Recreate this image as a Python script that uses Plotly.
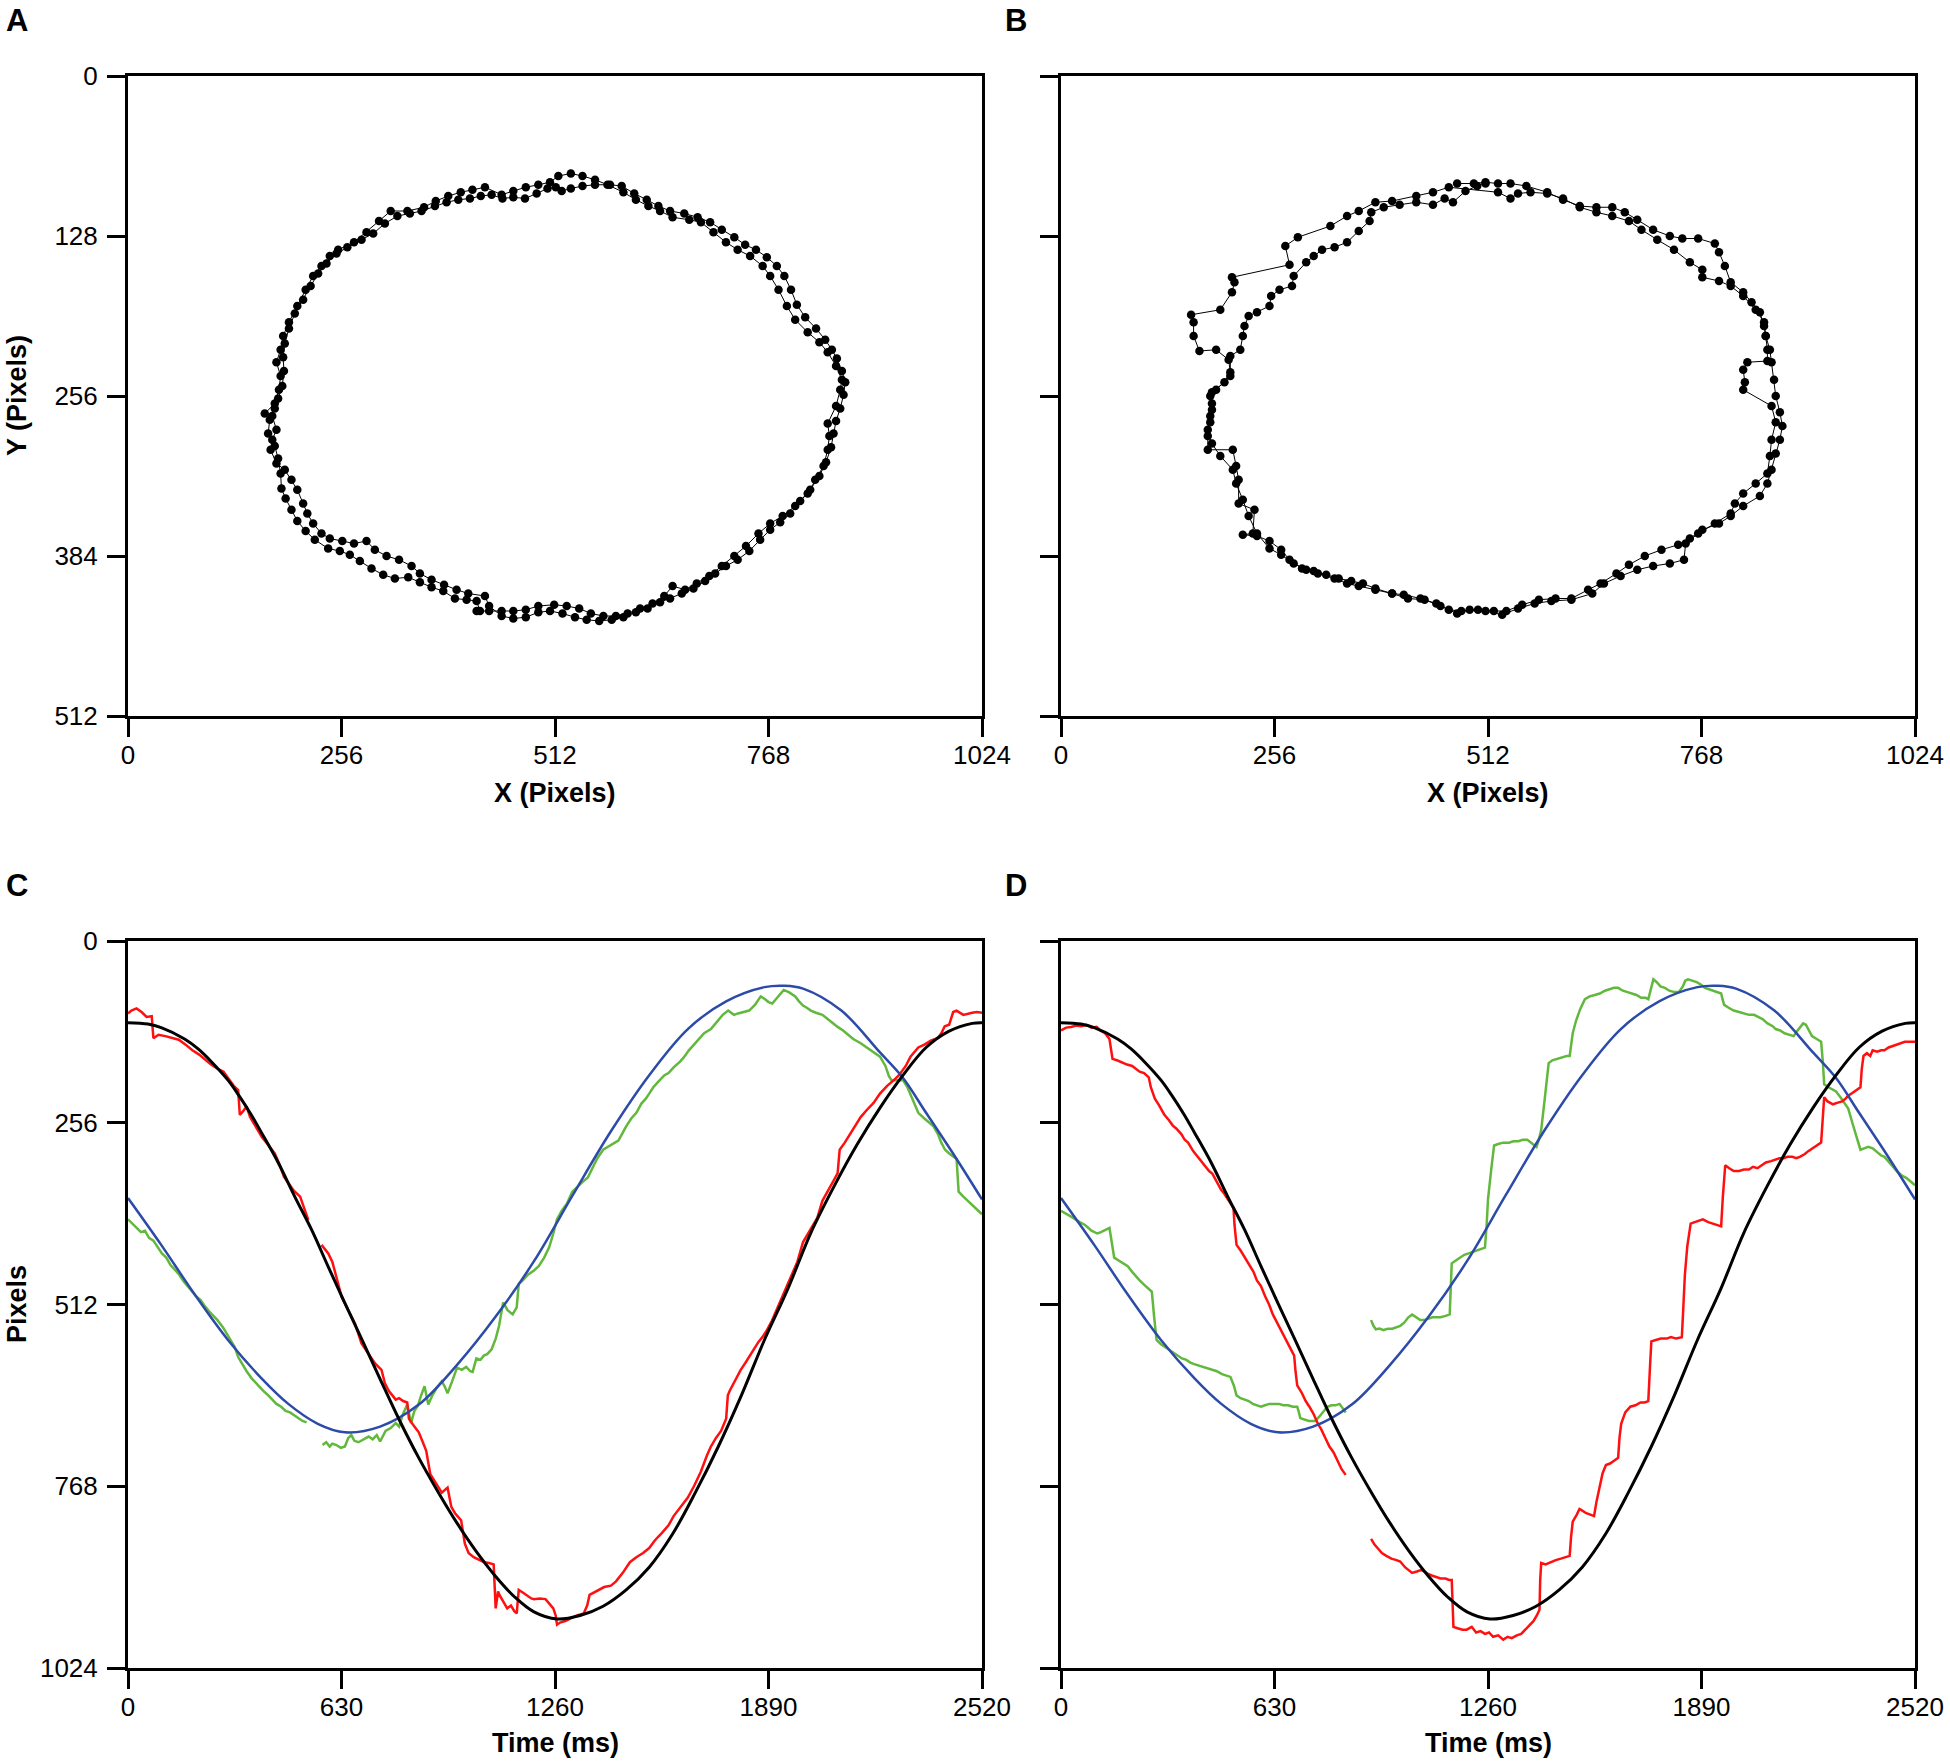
import plotly.graph_objects as go

# ---- panel A: cursor trajectory (two laps), image pixels ----
a_x1 = [418, 433, 448, 462, 477, 492, 511, 526, 541, 555, 570, 585, 599, 614, 629, 643, 653, 668, 682, 697,
        712, 727, 741, 756, 770, 785, 800, 815, 824, 834, 839, 841, 839, 849, 854, 856, 849, 839, 829, 815,
        800, 790, 780, 770, 761, 746, 731, 717, 702, 687, 673, 653, 638, 624, 609, 594, 575, 560, 545, 531,
        516, 506, 492, 477, 462, 448, 428, 413, 399, 384, 369, 355, 335, 315, 301, 286, 271, 252, 242, 232,
        222, 213, 203, 193, 186, 183, 178, 183, 181, 176, 164, 173, 178, 173, 171, 178, 188, 196, 203, 210,
        215, 222, 232, 242, 257, 271, 286, 296, 310, 325, 340, 350, 364, 379, 394, 408, 428, 433]
a_y1 = [428, 428, 428, 428, 427, 424, 423, 424, 426, 430, 432, 432, 430, 426, 422, 416, 408, 411, 406, 400,
        392, 384, 376, 366, 358, 352, 344, 334, 323, 312, 299, 288, 278, 264, 251, 243, 232, 221, 213, 205,
        195, 184, 171, 160, 152, 144, 139, 133, 125, 117, 115, 113, 108, 104, 99, 93, 87, 83, 80, 78,
        80, 85, 87, 89, 92, 95, 89, 91, 93, 96, 100, 105, 108, 108, 116, 125, 133, 139, 144, 152,
        160, 171, 184, 197, 208, 219, 229, 240, 251, 262, 270, 272, 283, 291, 299, 310, 315, 323, 331, 342,
        350, 358, 366, 370, 372, 374, 372, 379, 384, 387, 392, 398, 403, 407, 411, 414, 416, 424]
a_x2 = [448, 462, 477, 492, 506, 521, 536, 550, 565, 580, 594, 609, 623, 638, 650, 664, 678, 692, 704, 717,
        731, 745, 758, 770, 782, 794, 806, 818, 829, 837, 843, 846, 849, 854, 858, 860, 856, 850, 844, 836,
        825, 812, 802, 795, 787, 778, 766, 753, 740, 727, 712, 698, 683, 667, 650, 636, 622, 607, 592, 578,
        560, 545, 531, 520, 513, 503, 490, 476, 462, 449, 436, 423, 410, 396, 382, 368, 352, 338, 323, 308,
        294, 280, 263, 250, 238, 228, 219, 210, 200, 193, 188, 186, 187, 185, 180, 176, 170, 168, 176, 180,
        183, 184, 189, 196, 203, 213, 224, 240, 254, 266, 278, 292, 306, 320, 336, 350, 364, 378, 392, 406,
        418, 422]
a_y2 = [432, 434, 433, 429, 428, 430, 433, 435, 436, 435, 433, 429, 426, 421, 418, 414, 410, 404, 398, 392,
        387, 380, 371, 363, 357, 350, 340, 331, 320, 309, 297, 286, 276, 266, 255, 245, 236, 226, 219, 211,
        202, 193, 183, 171, 160, 152, 145, 139, 135, 129, 123, 117, 113, 110, 108, 104, 99, 94, 88, 87,
        87, 88, 90, 92, 89, 90, 94, 98, 97, 98, 95, 96, 98, 99, 101, 104, 108, 110, 112, 118,
        126, 131, 137, 142, 150, 158, 168, 179, 190, 202, 214, 225, 236, 248, 258, 266, 275, 286, 296, 306,
        318, 330, 338, 347, 356, 364, 371, 378, 380, 383, 388, 394, 399, 402, 401, 405, 409, 412, 418, 419,
        420, 428]

# ---- panel B ----
b_x1 = [475, 495, 509, 524, 539, 558, 583, 602, 622, 642, 661, 676, 691, 710, 730, 745, 764, 784, 789, 796,
        803, 818, 828, 838, 843, 845, 850, 852, 855, 857, 862, 865, 862, 857, 852, 847, 838, 818, 803, 789,
        769, 754, 740, 720, 700, 681, 666, 647, 632, 612, 593, 573, 553, 534, 519, 500, 480, 465, 450, 431,
        411, 397, 377, 357, 343, 328, 308, 294, 279, 264, 250, 235, 225, 218, 210, 206, 191, 181, 176, 179,
        181, 181, 196, 203, 201, 186, 166, 159, 159, 156, 191, 205, 208, 205, 274, 269, 284, 323, 343, 357,
        377, 397, 426, 446, 465]
b_y1 = [86, 86, 85, 86, 86, 88, 93, 99, 104, 105, 105, 109, 115, 123, 128, 130, 130, 134, 141, 152,
        165, 173, 181, 189, 200, 208, 219, 229, 243, 256, 269, 280, 291, 302, 315, 326, 336, 344, 352, 358,
        363, 370, 375, 379, 384, 391, 398, 406, 411, 418, 418, 419, 423, 428, 428, 427, 428, 427, 422, 418,
        415, 414, 411, 408, 406, 402, 398, 395, 390, 383, 378, 366, 352, 339, 326, 315, 304, 294, 283, 272,
        262, 253, 245, 237, 227, 219, 220, 208, 197, 191, 187, 173, 165, 161, 151, 136, 129, 120, 112, 108,
        101, 100, 96, 93, 89]
b_x2 = [524, 539, 548, 563, 583, 602, 622, 642, 661, 681, 696, 715, 735, 754, 769, 769, 789, 803, 818, 833,
        843, 845, 847, 847, 823, 818, 820, 818, 852, 857, 852, 850, 847, 833, 818, 808, 803, 784, 764, 749,
        747, 730, 710, 691, 671, 651, 637, 612, 588, 568, 548, 529, 509, 490, 475, 455, 436, 416, 397, 377,
        362, 348, 333, 318, 303, 289, 274, 264, 250, 235, 218, 230, 232, 213, 213, 210, 206, 176, 176, 179,
        181, 179, 186, 203, 203, 215, 218, 220, 225, 235, 250, 252, 262, 277, 279, 294, 303, 313, 328, 343,
        357, 370, 372, 387, 406, 426, 446, 460, 470, 485, 499, 509]
b_y2 = [93, 98, 94, 93, 94, 98, 105, 109, 112, 116, 123, 131, 139, 149, 155, 161, 164, 168, 176, 187,
        197, 208, 219, 228, 229, 235, 245, 251, 264, 277, 291, 304, 318, 326, 334, 342, 350, 358, 366, 374,
        387, 390, 392, 395, 400, 406, 414, 419, 420, 422, 426, 431, 428, 427, 430, 424, 419, 418, 414, 410,
        406, 404, 402, 399, 396, 394, 387, 379, 372, 368, 367, 366, 347, 342, 323, 312, 299, 299, 288, 277,
        267, 256, 251, 240, 224, 219, 208, 200, 192, 189, 184, 176, 171, 168, 160, 149, 144, 139, 137, 133,
        124, 116, 109, 105, 103, 101, 103, 98, 101, 92, 88, 86]

# ---- target curves (same in C and D) ----
black_t = [0, 59, 98, 167, 207, 246, 295, 325, 364, 394, 443, 492, 542, 591, 640, 689, 744, 801, 858, 915,
           971, 1028, 1085, 1141, 1198, 1266, 1334, 1402, 1470, 1538, 1606, 1674, 1742, 1810, 1878, 1947,
           2015, 2083, 2151, 2219, 2287, 2355, 2423, 2491, 2520]
black_v = [115, 117, 122, 138, 152, 170, 196, 216, 245, 270, 312, 360, 407, 459, 510, 560, 617, 675, 728, 776,
           820, 860, 895, 924, 945, 955, 950, 937, 914, 882, 836, 777, 712, 640, 562, 490,
           411, 346, 287, 235, 189, 150, 127, 116, 115]
blue_t = [0, 98, 197, 295, 394, 473, 560, 640, 744, 858, 971, 1085, 1198, 1311, 1425, 1538, 1652, 1765,
          1878, 1935, 1992, 2105, 2219, 2287, 2355, 2445, 2520]
blue_v = [362, 428, 498, 562, 616, 652, 680, 692, 684, 653, 597, 529, 451, 359, 268, 189, 124, 85,
          65, 63, 67, 98, 157, 193, 242, 307, 364]

# ---- panel C tracked positions ----
c_red_t = [0, 10, 25, 40, 55, 70, 75, 90, 110, 130, 150, 170, 190, 210, 226, 245, 265, 282, 300, 312,
           325, 330, 339, 350, 360, 377, 395, 415, 433, 450, 460, 473, 490, 508, 520, 532, None,
           571, 580, 591, 603, 611, 622, 630, 640, 650, 660, 670, 689, 709, 729, 748, 758, 770, 790, 800, 812,
           824, 829, 845, 858, 870, 880, 892, 904, 918, 926, 943, 954, 965, 983, 994, 1005, 1020, 1036, 1051, 1065,
           1079, 1085, 1092, 1096, 1108, 1119, 1130, 1140, 1147, 1153, 1166, 1178, 1190, 1198, 1215, 1232, 1240, 1255, 1262, 1266,
           1275, 1290, 1311, 1325, 1345, 1355, 1362, 1375, 1390, 1405, 1425, 1440, 1460, 1481, 1500, 1520, 1538, 1555, 1575, 1595,
           1610, 1630, 1652, 1670, 1690, 1708, 1720, 1735, 1750, 1765, 1770, 1776, 1790, 1808, 1822, 1835, 1848, 1860,
           1872, 1883, 1900, 1921, 1940, 1958, 1975, 1992, 2015, 2034, 2049, 2071, 2085, 2094, 2100, 2115, 2130, 2145, 2162, 2180,
           2200, 2219, 2240, 2260, 2275, 2295, 2309, 2332, 2350, 2370, 2389, 2400, 2410, 2423, 2435, 2445, 2465, 2491, 2505, 2520]
c_red_v = [102, 98, 95, 100, 107, 106, 137, 132, 134, 136, 139, 146, 154, 160, 166, 174, 180, 184, 196, 204,
           210, 245, 240, 233, 248, 262, 276, 288, 299, 318, 332, 341, 352, 360, 378, 393, None,
           428, 434, 440, 452, 468, 486, 501, 510, 520, 530, 539, 567, 581, 595, 604, 623, 634, 646, 644, 648,
           650, 673, 684, 692, 706, 718, 751, 760, 772, 777, 770, 797, 806, 816, 849, 862, 868, 872, 875, 876,
           878, 940, 916, 921, 930, 940, 936, 944, 947, 914, 918, 922, 926, 927, 926, 927, 932, 940, 950, 963,
           960, 958, 953, 950, 947, 936, 921, 918, 914, 910, 908, 902, 890, 875, 868, 862, 855, 844, 834, 823,
           810, 798, 784, 768, 748, 725, 712, 700, 690, 673, 640, 633, 620, 604, 594, 584, 575, 565,
           558, 550, 535, 512, 492, 470, 452, 424, 405, 390, 366, 348, 335, 327, 294, 284, 272, 262, 248, 238,
           228, 215, 204, 196, 189, 176, 163, 150, 146, 140, 137, 130, 120, 118, 100, 98, 104, 101, 100, 101]
c_grn_t = [0, 12, 25, 38, 50, 62, 75, 90, 100, 113, 125, 140, 151, 165, 178, 188, 200, 215, 226, 240,
           252, 264, 280, 290, 301, 315, 325, 339, 350, 365, 377, 390, 400, 414, 425, 438, 452, 465, 478, 490,
           500, 515, 527, None,
           574, 585, 595, 603, 615, 628, 640, 650, 659, 668, 680, 697, 710, 722, 734, 744, 760, 775, 790, 800,
           810, 824, 835, 845, 855, 865, 875, 886, 898, 910, 926, 935, 943, 955, 971, 985, 998, 1010, 1017, 1028,
           1040, 1050, 1060, 1073, 1085, 1095, 1107, 1120, 1135, 1147, 1153, 1165, 1180, 1198, 1212, 1228, 1243, 1255, 1266, 1280,
           1295, 1311, 1325, 1340, 1357, 1370, 1385, 1402, 1415, 1430, 1447, 1460, 1470, 1485, 1500, 1515, 1528, 1538, 1550, 1565,
           1583, 1595, 1610, 1629, 1640, 1655, 1674, 1685, 1700, 1720, 1730, 1742, 1755, 1771, 1788, 1800, 1815, 1833, 1850, 1867,
           1880, 1890, 1901, 1915, 1935, 1950, 1969, 1980, 1992, 2003, 2015, 2030, 2049, 2060, 2075, 2094, 2110, 2125, 2140, 2162,
           2180, 2200, 2219, 2235, 2245, 2253, 2265, 2287, 2300, 2315, 2332, 2350, 2365, 2377, 2390, 2400, 2411, 2425, 2445, 2451,
           2465, 2478, 2491, 2505, 2520]
c_grn_v = [392, 398, 404, 410, 408, 418, 422, 432, 440, 446, 456, 464, 470, 480, 488, 494, 500, 506, 514, 522,
           528, 534, 544, 552, 560, 572, 586, 598, 606, 616, 622, 630, 634, 640, 646, 652, 656, 662, 664, 668,
           672, 676, 678, None,
           710, 706, 712, 708, 710, 714, 712, 700, 696, 704, 706, 702, 698, 702, 696, 705, 690, 686, 679, 684,
           668, 653, 679, 662, 655, 640, 627, 653, 640, 630, 620, 628, 637, 622, 601, 604, 600, 606, 607, 588,
           590, 584, 582, 575, 560, 542, 509, 520, 526, 516, 483, 478, 470, 464, 458, 446, 431, 412, 392, 380,
           370, 353, 346, 340, 333, 320, 306, 294, 290, 286, 281, 270, 261, 250, 242, 229, 222, 215, 206, 198,
           189, 186, 178, 170, 164, 154, 144, 138, 130, 124, 118, 111, 104, 98, 104, 102, 100, 98, 90, 78,
           82, 86, 88, 80, 69, 72, 78, 85, 91, 94, 98, 101, 104, 108, 114, 121, 126, 132, 138, 144,
           150, 156, 163, 176, 190, 196, 196, 196, 206, 224, 242, 250, 256, 261, 272, 284, 294, 300, 307, 353,
           360, 366, 372, 378, 385]

# ---- panel D tracked positions ----
d_red_t = [0, 15, 30, 45, 60, 75, 90, 105, 116, 130, 143, 147, 152, 165, 179, 195, 210, 222, 232, 245,
           259, 265, 277, 290, 304, 318, 330, 340, 355, 365, 375, 390, 400, 411, 425, 437, 447, 460, 472, 482,
           496, 509, 512, 518, 530, 542, 554, 568, 578, 590, 602, 614, 625, 638, 650, 661, 675, 688, 692, 697,
           710, 722, 733, 745, 758, 768, 780, 792, 804, 815, 828, 840, None,
           915, 925, 936, 947, 960, 975, 990, 1001, 1015, 1025, 1036, 1050, 1062, 1072, 1085, 1096, 1108, 1120, 1135, 1145,
           1153, 1156, 1158, 1170, 1185, 1197, 1212, 1225, 1238, 1251, 1263, 1275, 1290, 1305, 1318, 1330, 1345, 1358, 1370, 1385,
           1394, 1404, 1412, 1414, 1417, 1430, 1447, 1460, 1475, 1490, 1501, 1505, 1510, 1522, 1530, 1537, 1550, 1562, 1573, 1580,
           1590, 1598, 1608, 1620, 1632, 1644, 1648, 1653, 1665, 1680, 1695, 1710, 1722, 1733, 1738, 1742, 1755, 1770, 1787, 1800,
           1815, 1832, 1836, 1841, 1848, 1858, 1870, 1882, 1894, 1910, 1925, 1940, 1948, 1953, 1960, 1972, 1985, 2001, 2015, 2030,
           2042, 2055, 2068, 2080, 2095, 2109, 2120, 2132, 2144, 2158, 2170, 2180, 2195, 2205, 2216, 2230, 2243, 2247, 2252, 2262,
           2278, 2290, 2305, 2315, 2323, 2335, 2348, 2359, 2363, 2368, 2378, 2388, 2395, 2408, 2420, 2430, 2442, 2455, 2466, 2480,
           2490, 2502, 2520]
d_red_v = [126, 122, 121, 119, 120, 118, 122, 121, 126, 130, 138, 152, 166, 168, 171, 174, 176, 180, 184, 186,
           192, 206, 222, 232, 244, 252, 260, 264, 272, 280, 284, 296, 302, 308, 318, 324, 328, 340, 350, 356,
           366, 376, 400, 428, 436, 446, 454, 466, 478, 486, 500, 512, 526, 538, 550, 560, 572, 584, 606, 626,
           636, 648, 656, 666, 680, 688, 700, 712, 720, 732, 744, 752, None,
           842, 850, 856, 862, 866, 870, 872, 874, 882, 886, 890, 888, 886, 888, 892, 894, 896, 898, 898, 900,
           900, 940, 966, 968, 970, 970, 966, 974, 972, 976, 974, 980, 978, 984, 980, 982, 978, 976, 970, 964,
           958, 950, 942, 900, 876, 878, 874, 872, 870, 868, 866, 840, 818, 808, 800, 802, 806, 808, 810, 790,
           768, 750, 738, 736, 732, 728, 700, 680, 664, 656, 654, 650, 650, 648, 600, 564, 562, 560, 560, 558,
           560, 558, 520, 470, 430, 398, 396, 394, 392, 396, 398, 400, 402, 360, 316, 320, 324, 324, 322, 322,
           318, 320, 316, 312, 310, 308, 306, 306, 304, 304, 306, 304, 300, 296, 292, 288, 284, 250, 220, 226,
           230, 228, 226, 222, 218, 214, 210, 206, 180, 162, 158, 162, 154, 156, 154, 154, 150, 148, 146, 144,
           142, 142, 142]
d_grn_t = [0, 15, 36, 55, 71, 90, 107, 118, 125, 135, 143, 150, 157, 170, 185, 197, 210, 220, 232, 245,
           258, 268, 275, 282, 295, 308, 322, 335, 345, 357, 370, 382, 393, 408, 420, 435, 447, 460, 475, 488,
           500, 510, 518, 530, 542, 554, 566, 578, 590, 602, 615, 630, 643, 656, 670, 684, 697, 702, 706, 718,
           732, 740, 750, 762, 775, 786, 798, 810, 822, 830, 840, None,
           915, 922, 929, 940, 952, 965, 978, 990, 1001, 1012, 1025, 1036, 1048, 1060, 1072, 1085, 1096, 1108, 1120, 1135,
           1147, 1150, 1153, 1165, 1179, 1190, 1203, 1215, 1228, 1240, 1251, 1256, 1260, 1270, 1278, 1290, 1305, 1322, 1335, 1350,
           1362, 1376, 1388, 1403, 1410, 1417, 1428, 1439, 1450, 1465, 1480, 1492, 1501, 1505, 1510, 1520, 1532, 1546, 1560, 1575,
           1590, 1605, 1620, 1632, 1644, 1658, 1672, 1685, 1698, 1712, 1725, 1733, 1740, 1748, 1758, 1769, 1782, 1795, 1810, 1823,
           1835, 1842, 1850, 1862, 1876, 1890, 1900, 1912, 1925, 1940, 1948, 1952, 1957, 1970, 1985, 2001, 2015, 2030, 2045, 2055,
           2070, 2085, 2100, 2109, 2122, 2135, 2150, 2162, 2170, 2180, 2190, 2198, 2207, 2216, 2230, 2243, 2248, 2252, 2265, 2278,
           2287, 2300, 2312, 2323, 2335, 2348, 2359, 2370, 2382, 2395, 2410, 2420, 2430, 2442, 2455, 2466, 2480, 2495, 2511, 2520]
d_grn_v = [380, 384, 390, 396, 400, 408, 412, 410, 408, 406, 404, 425, 446, 450, 454, 458, 466, 472, 478, 484,
           490, 494, 530, 562, 568, 572, 576, 580, 584, 588, 590, 594, 596, 598, 600, 602, 604, 606, 610, 612,
           614, 626, 640, 644, 646, 648, 652, 654, 656, 654, 652, 652, 652, 654, 654, 656, 656, 664, 672, 674,
           676, 676, 676, 670, 662, 656, 654, 654, 652, 658, 664, None,
           534, 542, 547, 546, 548, 546, 546, 544, 542, 538, 530, 526, 530, 534, 534, 532, 530, 530, 530, 528,
           526, 490, 454, 450, 446, 442, 440, 438, 436, 434, 432, 400, 364, 320, 288, 286, 284, 284, 282, 282,
           280, 280, 284, 290, 280, 266, 220, 172, 168, 166, 164, 162, 162, 146, 130, 112, 96, 82, 78, 76,
           74, 70, 68, 66, 66, 70, 72, 74, 76, 80, 80, 82, 68, 54, 58, 64, 66, 70, 72, 72,
           64, 56, 54, 56, 58, 62, 66, 68, 70, 72, 74, 82, 90, 94, 98, 100, 102, 104, 104, 106,
           110, 116, 120, 124, 126, 130, 132, 134, 128, 122, 116, 118, 126, 134, 138, 142, 170, 202, 206, 210,
           212, 220, 228, 236, 256, 276, 294, 292, 290, 292, 298, 302, 304, 310, 318, 324, 330, 334, 340, 344]

xy_ticks = [0, 256, 512, 768, 1024]
xy_yticks = [0, 128, 256, 384, 512]
time_ticks = [0, 630, 1260, 1890, 2520]
pix_ticks = [0, 256, 512, 768, 1024]

W, H = 1950, 1762
FONT = "Liberation Sans, Arial, sans-serif"
RED, GREEN, BLUE = "#ff1010", "#62b83c", "#2c4aa8"


def sx(p):
    return p / W


def sy(p):
    return 1 - p / H


left_dom = [sx(128), sx(982)]
right_dom = [sx(1061), sx(1915)]
top_dom = [sy(716), sy(76)]
bot_dom = [sy(1668), sy(941)]


def axis(domain, anchor, rng, ticks, standoff, labels=True):
    return dict(domain=domain, anchor=anchor, range=rng, tickvals=ticks,
                showticklabels=labels, showline=True, linecolor="black", linewidth=3,
                mirror=True, ticks="outside", ticklen=18, tickwidth=3, tickcolor="black",
                ticklabelstandoff=standoff, ticklabeloverflow="allow",
                showgrid=False, zeroline=False, automargin=False,
                tickfont=dict(family=FONT, size=26, color="black"))


fig = go.Figure()

dots = dict(mode="lines+markers", line=dict(color="black", width=1),
            marker=dict(color="black", size=8.5), showlegend=False)
fig.add_trace(go.Scatter(x=a_x1 + a_x2, y=a_y1 + a_y2, xaxis="x", yaxis="y", **dots))
fig.add_trace(go.Scatter(x=b_x1 + b_x2, y=b_y1 + b_y2, xaxis="x2", yaxis="y2", **dots))

for xa, ya, rt, rv, gt, gv in [("x3", "y3", c_red_t, c_red_v, c_grn_t, c_grn_v),
                               ("x4", "y4", d_red_t, d_red_v, d_grn_t, d_grn_v)]:
    fig.add_trace(go.Scatter(x=gt, y=gv, mode="lines", line=dict(color=GREEN, width=2.5),
                             xaxis=xa, yaxis=ya, showlegend=False))
    fig.add_trace(go.Scatter(x=rt, y=rv, mode="lines", line=dict(color=RED, width=2.5),
                             xaxis=xa, yaxis=ya, showlegend=False))
    fig.add_trace(go.Scatter(x=blue_t, y=blue_v, mode="lines",
                             line=dict(color=BLUE, width=2.5, shape="spline", smoothing=1.0),
                             xaxis=xa, yaxis=ya, showlegend=False))
    fig.add_trace(go.Scatter(x=black_t, y=black_v, mode="lines",
                             line=dict(color="black", width=3, shape="spline", smoothing=1.0),
                             xaxis=xa, yaxis=ya, showlegend=False))

bold = dict(family=FONT, size=27, color="black")
letter = dict(family=FONT, size=31, color="black")
ann = []
for txt, x, y in [("A", 4, 20), ("B", 1003, 20), ("C", 4, 885), ("D", 1003, 885)]:
    ann.append(dict(text="<b>%s</b>" % txt, x=sx(x), y=sy(y), xref="paper", yref="paper",
                    xanchor="left", yanchor="middle", showarrow=False, font=letter))
for txt, x, y in [("X (Pixels)", 555, 793), ("X (Pixels)", 1488, 793),
                  ("Time (ms)", 555, 1743), ("Time (ms)", 1488, 1743)]:
    ann.append(dict(text="<b>%s</b>" % txt, x=sx(x), y=sy(y), xref="paper", yref="paper",
                    xanchor="center", yanchor="middle", showarrow=False, font=bold))
for txt, y in [("Y (Pixels)", 396), ("Pixels", 1304)]:
    ann.append(dict(text="<b>%s</b>" % txt, x=sx(17), y=sy(y), xref="paper", yref="paper",
                    xanchor="center", yanchor="middle", textangle=-90, showarrow=False, font=bold))

fig.update_layout(
    width=W, height=H,
    margin=dict(l=0, r=0, t=0, b=0),
    paper_bgcolor="white", plot_bgcolor="white",
    showlegend=False,
    xaxis=axis(left_dom, "y", [0, 1024], xy_ticks, -4),
    yaxis=axis(top_dom, "x", [512, 0], xy_yticks, 4),
    xaxis2=axis(right_dom, "y2", [0, 1024], xy_ticks, -4),
    yaxis2=axis(top_dom, "x2", [512, 0], xy_yticks, 4, labels=False),
    xaxis3=axis(left_dom, "y3", [0, 2520], time_ticks, -4),
    yaxis3=axis(bot_dom, "x3", [1024, 0], pix_ticks, 4),
    xaxis4=axis(right_dom, "y4", [0, 2520], time_ticks, -4),
    yaxis4=axis(bot_dom, "x4", [1024, 0], pix_ticks, 4, labels=False),
    annotations=ann,
)

# drop the default page margin so the figure sits at the window's corner
fig.write_html("out.html", config={"displayModeBar": False},
               post_script="document.body.style.margin='0px';")
